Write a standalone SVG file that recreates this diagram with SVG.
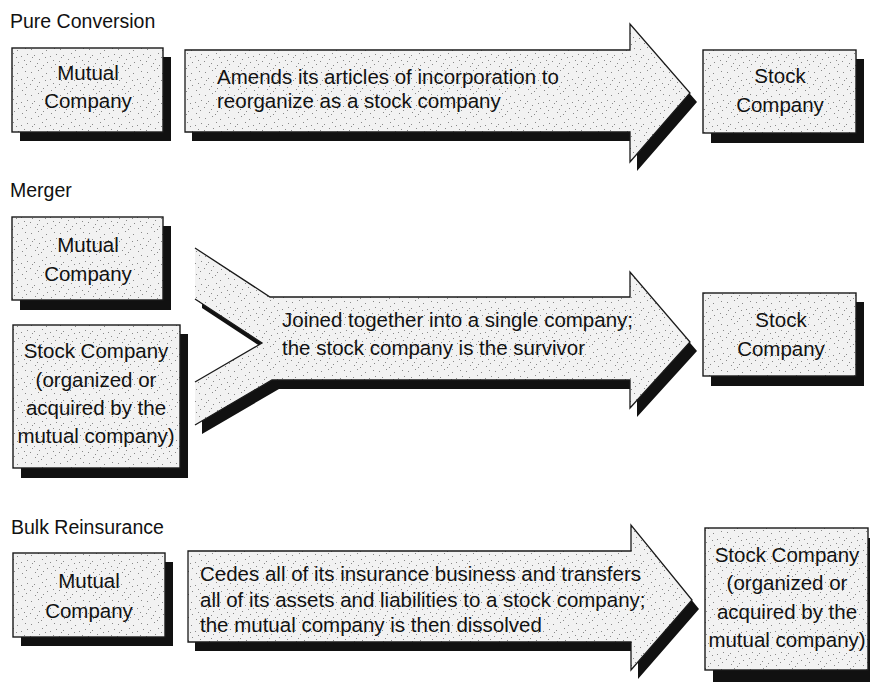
<svg xmlns="http://www.w3.org/2000/svg" width="870" height="691" viewBox="0 0 870 691">
<defs>
<pattern id="stip" width="29" height="23" patternUnits="userSpaceOnUse">
<rect width="29" height="23" fill="#f2f2f2"/>
<g fill="#8a8a8a">
<rect x="2" y="3" width="1" height="1"/><rect x="9" y="1" width="1" height="1"/><rect x="17" y="4" width="1" height="1"/><rect x="25" y="2" width="1" height="1"/>
<rect x="5" y="9" width="1" height="1"/><rect x="13" y="7" width="1" height="1"/><rect x="21" y="10" width="1" height="1"/><rect x="27" y="8" width="1" height="1"/>
<rect x="1" y="15" width="1" height="1"/><rect x="10" y="13" width="1" height="1"/><rect x="18" y="16" width="1" height="1"/><rect x="24" y="14" width="1" height="1"/>
<rect x="6" y="20" width="1" height="1"/><rect x="14" y="19" width="1" height="1"/><rect x="22" y="21" width="1" height="1"/><rect x="3" y="11" width="1" height="1"/>
<rect x="16" y="11" width="1" height="1"/><rect x="8" y="17" width="1" height="1"/><rect x="26" y="18" width="1" height="1"/><rect x="12" y="22" width="1" height="1"/>
</g>
</pattern>
<style>
.box{fill:url(#stip);stroke:#1a1a1a;stroke-width:1.4}
.shd{fill:#111}
.arr{fill:url(#stip);stroke:none}
.edge{fill:none;stroke:#1a1a1a;stroke-width:1.3;stroke-linejoin:miter}
.t{font-family:"Liberation Sans",Arial,sans-serif;font-size:20.5px;fill:#111}
.c{text-anchor:middle}
.lbl{font-family:"Liberation Sans",Arial,sans-serif;font-size:19.5px;fill:#111}
</style>
</defs>
<rect width="870" height="691" fill="#ffffff"/>

<g id="section-labels">
<text class="lbl" x="10" y="28">Pure Conversion</text>
<text class="lbl" x="10" y="197">Merger</text>
<text class="lbl" x="11" y="534">Bulk Reinsurance</text>
</g>

<g id="connectors">
<g id="arrow-pure">
<polygon class="shd" points="192,59 637,59 637,33 697,102 637,171 637,141 192,141"/>
<polygon class="arr" points="185,50 630,50 630,24 690,93 630,162 630,132 185,132"/>
<polygon class="edge" points="185,50 630,50 630,24 690,93 630,162 630,132 185,132"/>
<text class="t" x="217" y="84">Amends its articles of incorporation to</text>
<text class="t" x="217" y="108">reorganize as a stock company</text>
</g>
<g id="arrow-merger">
<polygon class="shd" points="202,257 277,306 637,306 637,281 697,351 637,417 637,389 279,389 202,434 202,391 269,352 202,308"/>
<polygon class="arr" points="195,248 270,297 630,297 630,272 690,342 630,408 630,380 272,380 195,425 195,382 262,343 195,299"/>
<polyline class="edge" points="195,248 270,297 630,297 630,272 690,342 630,408 630,380 272,380 195,425"/>
<polyline class="edge" points="195,382 262,343 195,299"/>
<text class="t" x="282" y="327">Joined together into a single company;</text>
<text class="t" x="282" y="355">the stock company is the survivor</text>
</g>
<g id="arrow-bulk">
<polygon class="shd" points="195,560 638,560 638,534 699,609 638,679 638,651 195,651"/>
<polygon class="arr" points="188,551 631,551 631,525 692,600 631,670 631,642 188,642"/>
<polygon class="edge" points="188,551 631,551 631,525 692,600 631,670 631,642 188,642"/>
<text class="t" x="200" y="581">Cedes all of its insurance business and transfers</text>
<text class="t" x="200" y="607">all of its assets and liabilities to a stock company;</text>
<text class="t" x="200" y="632">the mutual company is then dissolved</text>
</g>
</g>

<g id="pure-mutual">
<rect class="shd" x="20" y="57" width="151" height="84"/>
<rect class="box" x="12" y="48" width="151" height="84"/>
<text class="t c" x="88" y="80">Mutual</text>
<text class="t c" x="88" y="108">Company</text>
</g>
<g id="pure-stock">
<rect class="shd" x="711" y="59" width="153" height="84"/>
<rect class="box" x="703" y="50" width="153" height="83"/>
<text class="t c" x="780" y="83">Stock</text>
<text class="t c" x="780" y="112">Company</text>
</g>

<g id="merger-mutual">
<rect class="shd" x="20" y="226" width="151" height="84"/>
<rect class="box" x="12" y="217" width="151" height="83"/>
<text class="t c" x="88" y="252">Mutual</text>
<text class="t c" x="88" y="281">Company</text>
</g>
<g id="merger-stock-sub">
<rect class="shd" x="21" y="334" width="167" height="144"/>
<rect class="box" x="13" y="325" width="167" height="143"/>
<text class="t c" x="96" y="358">Stock Company</text>
<text class="t c" x="96" y="387">(organized or</text>
<text class="t c" x="96" y="415">acquired by the</text>
<text class="t c" x="96" y="443">mutual company)</text>
</g>
<g id="merger-stock">
<rect class="shd" x="711" y="302" width="153" height="84"/>
<rect class="box" x="703" y="293" width="153" height="83"/>
<text class="t c" x="781" y="327">Stock</text>
<text class="t c" x="781" y="356">Company</text>
</g>

<g id="bulk-mutual">
<rect class="shd" x="21" y="562" width="152" height="84"/>
<rect class="box" x="13" y="553" width="152" height="84"/>
<text class="t c" x="89" y="588">Mutual</text>
<text class="t c" x="89" y="618">Company</text>
</g>
<g id="bulk-stock">
<rect class="shd" x="713" y="538" width="163" height="144"/>
<rect class="box" x="705" y="528" width="163" height="142"/>
<text class="t c" x="787" y="562">Stock Company</text>
<text class="t c" x="787" y="590">(organized or</text>
<text class="t c" x="787" y="619">acquired by the</text>
<text class="t c" x="787" y="647">mutual company)</text>
</g>
</svg>
